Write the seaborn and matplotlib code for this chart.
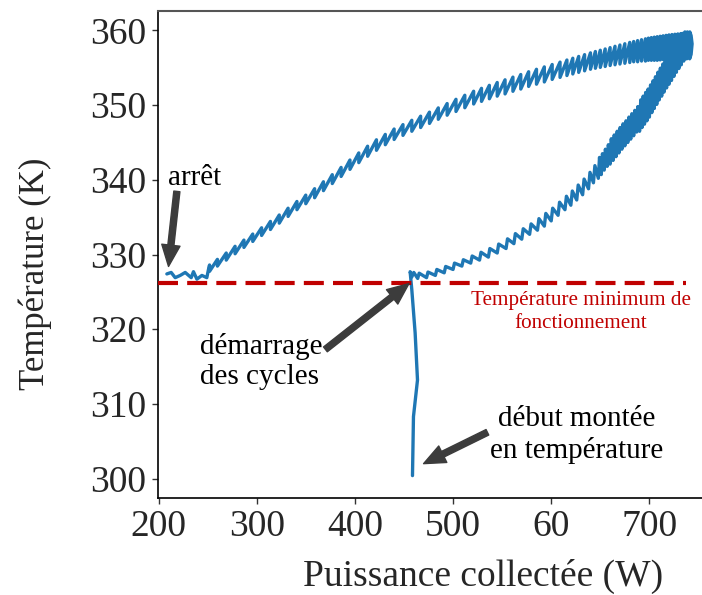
import matplotlib
matplotlib.use("Agg")
import matplotlib.pyplot as plt
import numpy as np
import pandas as pd
import seaborn as sns

# ---------------- data ----------------
# montée en température (vertical start)
montee_p = [458.7, 459.7, 463.8, 461.4, 458.0, 456.3]
montee_t = [300.4, 308.3, 313.2, 319.5, 325.3, 327.7]

# branche "aller" (cycles, lower branch) - sawtooth points in time order
aller_p = [458.0, 460.0,
           464, 465.5, 473, 474.5, 482, 483.5, 491, 492.5, 500, 501.5,
           509, 510.5, 518, 519.5, 527, 528.5, 536, 537.5, 545, 546.5,
           554, 555.5, 562, 563.5, 570, 571.5, 578, 579.5, 586, 587.5,
           593, 594.5, 600, 601.5, 607, 608.5, 614, 615.5, 620, 621.5,
           626, 627.5, 632, 633.5, 638, 639.5, 643, 644.5,
           648, 649.2, 651, 652.2, 654, 655.2, 657, 658.2, 660, 661.2,
           663, 664.2, 666, 667.2, 669, 670.2, 672, 673.2, 675, 676.2,
           678, 679.2, 681, 682.2, 684, 685.2, 687, 688.2, 690, 691.2,
           692.5, 693.7, 695, 696.2, 697.5, 698.7, 700, 701.2, 702.5, 703.7,
           705, 706.2, 707.5, 708.7, 710, 711.2, 712.5, 713.7, 715, 716.2,
           717.5, 718.7, 720, 721.2, 722.5, 723.7, 725, 726.2, 727.5, 728.7,
           730, 731.2, 732.5, 733.7, 735, 736.2, 737.5, 738.7, 740, 741.2,
           742.5, 743.5, 742.5]
aller_t = [327.0, 327.6,
           326.8, 327.5, 326.9, 327.65, 327.2, 328.0, 327.55, 328.4, 328.0, 328.85,
           328.45, 329.3, 328.85, 329.8, 329.25, 330.3, 329.65, 330.8, 330.2, 331.4,
           330.8, 332.1, 331.45, 332.8, 332.05, 333.45, 332.7, 334.1, 333.25, 334.8,
           333.8, 335.5, 334.5, 336.2, 335.25, 337.0, 336.0, 337.8, 336.6, 338.5,
           337.3, 339.3, 338.0, 340.1, 338.8, 341.0, 339.6, 341.9,
           340.2, 343.0, 340.7, 343.5, 341.3, 344.1, 341.8, 344.7, 342.1, 345.5,
           342.6, 346.0, 343.1, 346.5, 343.6, 347.0, 344.1, 347.5, 344.55, 347.9,
           345.0, 348.4, 345.45, 348.85, 345.9, 349.3, 346.4, 349.8, 346.5, 350.7,
           347.0, 351.2, 347.45, 351.7, 347.9, 352.15, 348.4, 352.7, 349.0, 353.25,
           349.55, 353.8, 350.1, 354.4, 350.7, 354.95, 351.2, 355.5, 351.75, 356.0,
           352.3, 356.5, 352.8, 357.05, 353.3, 357.6, 353.85, 358.1, 354.4, 358.6,
           354.9, 359.1, 355.4, 359.6, 355.9, 359.8, 356.6, 359.8, 357.3, 359.8,
           359.3, 358.2, 356.8]

# branche "retour" (upper branch): tooth positions, tooth bottoms, tooth tops
retour_p = [741, 738, 735, 732, 729, 726, 723, 720, 717, 714, 711, 708, 705, 702,
            699, 696, 692, 688, 684, 680, 675, 670, 665, 660, 655, 650, 645, 640,
            634, 628, 622, 616, 609, 601, 593, 585, 577, 569, 561, 553, 545, 537,
            529, 521, 512, 503, 494, 485, 476, 467, 458, 449, 440, 431, 422, 413,
            404, 395, 386, 377, 368, 359, 350, 341, 332, 323, 314, 305, 296, 287,
            278, 269, 260, 252]
retour_bas = [356.2, 356.2, 356.2, 356.2, 356.1, 356.1, 356.1, 356.1, 356.1, 356.1,
              356.05, 356.0, 356.0, 356.0, 356.0, 355.9, 355.9, 355.8, 355.8, 355.7,
              355.6, 355.5, 355.4, 355.3, 355.17, 355.05, 354.93, 354.8,
              354.59, 354.38, 354.17, 353.96, 353.71, 353.44,
              353.1, 352.8, 352.5, 352.15, 351.85, 351.5, 351.2, 350.85, 350.5, 350.15,
              349.65, 349.15, 348.65, 348.1, 347.55, 347.0, 346.5, 345.95, 345.4, 344.7,
              343.95, 343.15, 342.3, 341.4, 340.45, 339.5, 338.55, 337.6, 336.8, 336.0,
              335.1, 334.2, 333.35, 332.55, 331.75, 330.95, 330.1, 329.25, 328.45, 327.75]
retour_haut = [359.7, 359.67, 359.6, 359.58, 359.53, 359.49, 359.45, 359.4, 359.34, 359.28,
               359.22, 359.16, 359.1, 359.04, 358.97, 358.88, 358.76, 358.64, 358.52, 358.4,
               358.22, 358.05, 357.88, 357.7, 357.52, 357.35, 357.18, 357.0,
               356.76, 356.52, 356.28, 356.04, 355.76, 355.44,
               355.12, 354.8, 354.47, 354.1, 353.75, 353.39, 353.03, 352.65, 352.25, 351.86,
               351.32, 350.78, 350.21, 349.63, 349.06, 348.52, 347.97, 347.39, 346.8, 346.08,
               345.36, 344.5, 343.6, 342.65, 341.66, 340.69, 339.74, 338.81, 337.95, 337.1,
               336.2, 335.29, 334.43, 333.58, 332.74, 331.93, 331.1, 330.2, 329.35, 328.6]

# fin de la courbe jusqu'à l'arrêt
arret_p = [250.9, 249.2, 244.2, 239.1, 235.6, 233.3, 227.2, 222.1, 217.0, 212.9, 208.5]
arret_t = [328.0, 326.9, 327.2, 326.7, 327.7, 326.9, 327.6, 327.2, 326.9, 327.6, 327.4]

seuil_t = 326.2                 # température minimum de fonctionnement
seuil_p = [199, 737]

x_ticks = [200, 300, 400, 500, 600, 700]
x_labels = ["200", "300", "400", "500", "60", "700"]
y_ticks = [300, 310, 320, 330, 340, 350, 360]

# ---------------- assemble series ----------------
ret_p, ret_t = [], []
for p, b, h in zip(retour_p, retour_bas, retour_haut):
    ret_p += [p, p]
    ret_t += [b, h]

P = montee_p + aller_p + ret_p + arret_p
T = montee_t + aller_t + ret_t + arret_t
df = pd.DataFrame({"Puissance": P, "Temperature": T, "ordre": np.arange(len(P))})

# ---------------- plot ----------------
sns.set_style("white")
plt.rcParams["font.family"] = ["Liberation Serif", "DejaVu Serif"]

fig = plt.figure(figsize=(7.02, 5.95), dpi=100)
ax = fig.add_axes([0.2244, 0.163, 0.9265, 0.8185])

sns.lineplot(data=df, x="Puissance", y="Temperature", sort=False, estimator=None,
             color="#1f77b4", lw=2.4, ax=ax)

ax.hlines(seuil_t, seuil_p[0], seuil_p[1], colors="#c00000", lw=3,
          linestyles=(0, (4.8, 2.2)), zorder=3)

ax.set_xlim(199, 861.5)
ax.set_ylim(297.4, 362.6)
ax.set_xticks(x_ticks)
ax.set_xticklabels(x_labels)
ax.set_yticks(y_ticks)
ax.tick_params(axis="both", which="major", labelsize=27, bottom=True, left=True,
               length=4, width=1, color="#333333", pad=4, direction="out")

ax.set_xlabel("Puissance collectée (W)", fontsize=27, labelpad=11)
ax.set_ylabel("Température (K)", fontsize=25)
ax.yaxis.set_label_coords(-0.162, 0.46)

for s in ["left", "bottom"]:
    ax.spines[s].set_color("black")
    ax.spines[s].set_linewidth(1.2)
ax.spines["top"].set_color("#555555")
ax.spines["top"].set_linewidth(1.5)
ax.spines["right"].set_visible(False)

# annotations
arrow = dict(arrowstyle="simple,head_length=0.7,head_width=0.6,tail_width=0.2",
             color="#3c3c3c", mutation_scale=22, shrinkA=0, shrinkB=0)
ax.annotate("", xy=(210.2, 328.4), xytext=(218.7, 338.45), arrowprops=arrow)
ax.annotate("", xy=(455.1, 326.1), xytext=(370, 317.3), arrowprops=arrow)
ax.annotate("", xy=(470, 302.0), xytext=(535, 306.2), arrowprops=arrow)

# (va="baseline" on multi-line text anchors the baseline of the last line)
ax.text(236.6, 339.3, "arrêt", fontsize=21, ha="center", va="baseline", color="black")
ax.text(241.8, 312.6, "démarrage\ndes cycles", fontsize=21, ha="left", va="baseline",
        multialignment="left", linespacing=1.2, color="black")
ax.text(626.2, 302.8, "début montée\nen température", fontsize=21, ha="center",
        va="baseline", multialignment="center", linespacing=1.2, color="black")
ax.text(630.4, 320.1, "Température minimum de\nfonctionnement", fontsize=15.2,
        ha="center", va="baseline", multialignment="center", linespacing=1.3,
        color="#c00000")

fig.savefig("out.png", dpi=100)
